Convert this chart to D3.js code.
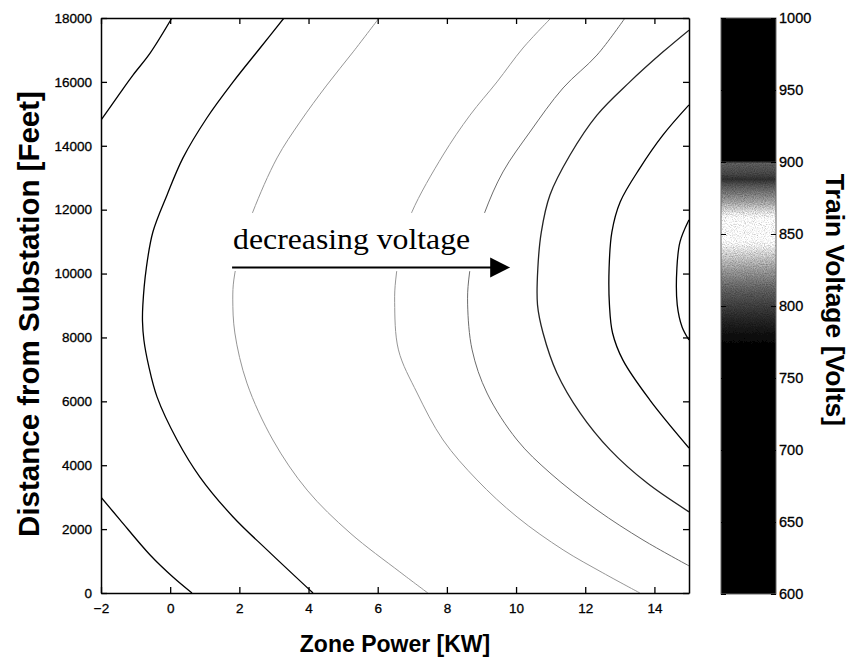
<!DOCTYPE html>
<html>
<head>
<meta charset="utf-8">
<script src="https://cdn.jsdelivr.net/npm/d3@7"></script>
<style>
  body { margin: 0; background: #fff; }
  svg { display: block; }
  .tick text { font-family: "Liberation Sans", Arial, Helvetica, sans-serif; fill: #000; stroke: #000; stroke-width: 0.3px; }
</style>
</head>
<body>
<svg id="chart" width="854" height="663"></svg>
<script>
// ---- axis ticks ----
const powerTicks = [-2, 0, 2, 4, 6, 8, 10, 12, 14];
const distanceTicks = [0, 2000, 4000, 6000, 8000, 10000, 12000, 14000, 16000, 18000];
const voltageTicks = [600, 650, 700, 750, 800, 850, 900, 950, 1000];

// ---- contour lines of train voltage: [zone power kW, distance ft] ----
const v960Upper = [[0.05, 18000], [-0.58, 16900], [-1.07, 16220], [-1.45, 15650], [-2, 14800]];
const v960Lower = [[-2, 3000], [-1.45, 2290], [-0.58, 1190], [0.08, 500], [0.63, 0]];
const v925 = [[3.29, 18000], [2.60, 17060], [1.82, 16000], [1.06, 14870], [0.37, 13620], [-0.09, 12460],
  [-0.50, 11300], [-0.69, 10170], [-0.79, 9020], [-0.80, 8500], [-0.76, 7920], [-0.62, 7100],
  [-0.38, 6140], [0.20, 4790], [0.86, 3630], [1.82, 2380], [2.80, 1350], [4.13, 0]];
const v865 = [[6.04, 18000], [5.29, 16940], [4.53, 15900], [3.75, 14740], [3.09, 13620], [2.39, 11930],
  [2.02, 10740], [1.84, 9800], [1.81, 9200], [1.87, 8140], [2.22, 6570], [2.97, 4790],
  [3.96, 3220], [5.20, 1880], [6.64, 660], [7.45, 0]];
const v840 = [[11.01, 18000], [10.20, 17060], [9.45, 16000], [8.67, 14960], [7.89, 13710], [6.99, 11930],
  [6.68, 10890], [6.52, 9800], [6.49, 9100], [6.60, 7610], [7.14, 6260], [7.89, 4790],
  [8.87, 3540], [10.03, 2380], [11.36, 1350], [12.51, 630], [13.58, 0]];
const v815 = [[13.15, 18000], [12.34, 16840], [11.36, 15810], [10.40, 14430], [9.62, 13180], [9.10, 11930],
  [8.80, 10890], [8.63, 9800], [8.60, 9020], [8.73, 7610], [9.16, 6260], [10.03, 4790],
  [10.98, 3760], [12.34, 2600], [13.67, 1660], [15.0, 850]];
const v790 = [[15, 17620], [14.25, 16940], [13.29, 16000], [12.34, 14960], [11.56, 13710], [10.98, 12460],
  [10.73, 11300], [10.63, 10170], [10.62, 9020], [10.78, 8140], [11.18, 6890], [11.85, 5640],
  [12.72, 4480], [13.79, 3440], [15, 2540]];
const v760 = [[15, 15280], [14.25, 14340], [13.58, 13300], [13.01, 12240], [12.77, 11300], [12.69, 10170],
  [12.70, 9020], [12.79, 8140], [13.09, 7290], [13.87, 6040], [15, 4540]];
const v735 = [[15, 11680], [14.74, 10990], [14.65, 10170], [14.66, 9020], [14.80, 8330], [15, 7920]];

const contourLevels = [960, 925, 865, 840, 815, 790, 760, 735];
const contourSegments = [[v960Upper, v960Lower], [v925], [v865], [v840], [v815], [v790], [v760], [v735]];

// ---- annotation ----
const noteText = "decreasing voltage";
const noteStart = [1.82, 10780];   // text start
const arrowFrom = [1.79, 10190];
const arrowTo = [9.83, 10190];

// ---- layout ----
const svg = d3.select("#chart");
const x = d3.scaleLinear().domain([-2, 15]).range([101, 689]);
const y = d3.scaleLinear().domain([0, 18000]).range([593, 18]);
const cbar = d3.scaleLinear().domain([600, 1000]).range([594, 18]);
const cbarX0 = 721, cbarX1 = 776;

// grey-scale colormap used by the colour bar and the contour lines
const mapStops = [600, 770, 778, 790, 800, 812, 825, 838, 845, 860, 864, 872, 884, 888, 892, 899, 901, 1000];
const mapGrey  = [0,   0,   10,  35,  60,  95,  150, 215, 250, 250, 230, 160, 80,  45,  70,  90,  0,   0];
const greyAt = d3.scaleLinear().domain(mapStops).range(mapGrey).clamp(true);
const mapColor = v => { const g = Math.round(greyAt(v)); return d3.rgb(g, g, g).formatHex(); };
const lineColor = v => { const g = Math.round(Math.min(greyAt(v), 150)); return d3.rgb(g, g, g).formatHex(); };

const defs = svg.append("defs");
defs.append("clipPath").attr("id", "plotClip")
  .append("rect").attr("x", x(-2)).attr("y", y(18000))
  .attr("width", x(15) - x(-2)).attr("height", y(0) - y(18000));

const grad = defs.append("linearGradient").attr("id", "cbarGrad")
  .attr("x1", 0).attr("y1", 0).attr("x2", 0).attr("y2", 1);
mapStops.slice().reverse().forEach(v => {
  grad.append("stop")
    .attr("offset", ((1000 - v) / 400 * 100).toFixed(2) + "%")
    .attr("stop-color", mapColor(v));
});

// printed-halftone grain for the colour bar
const grain = defs.append("filter").attr("id", "grain")
  .attr("x", 0).attr("y", 0).attr("width", 1).attr("height", 1);
grain.append("feTurbulence").attr("type", "fractalNoise").attr("baseFrequency", 0.9)
  .attr("numOctaves", 2).attr("seed", 7).attr("result", "noise");
grain.append("feColorMatrix").attr("in", "noise").attr("type", "matrix")
  .attr("values", "1 0 0 0 0  1 0 0 0 0  1 0 0 0 0  0 0 0 0 1").attr("result", "greyNoise");
grain.append("feComposite").attr("in", "SourceGraphic").attr("in2", "greyNoise")
  .attr("operator", "arithmetic").attr("k1", 1.3).attr("k2", 0.35).attr("k3", 0).attr("k4", 0);

// plot background
svg.append("rect").attr("x", x(-2)).attr("y", y(18000))
  .attr("width", x(15) - x(-2)).attr("height", y(0) - y(18000)).attr("fill", "#fff");

// contour lines
const line = d3.line().x(d => x(d[0])).y(d => y(d[1])).curve(d3.curveCatmullRom.alpha(0.5));
const gC = svg.append("g").attr("clip-path", "url(#plotClip)");
contourLevels.forEach((lvl, i) => {
  contourSegments[i].forEach(seg => {
    gC.append("path").attr("d", line(seg))
      .attr("fill", "none")
      .attr("stroke", lineColor(lvl))
      .attr("stroke-width", greyAt(lvl) > 100 ? 1 : 1.3);
  });
});

// annotation: white backing box, text and arrow
const gN = svg.append("g");
gN.append("rect")
  .attr("x", x(1.5)).attr("y", y(11900))
  .attr("width", x(10.1) - x(1.5)).attr("height", y(10080) - y(11900))
  .attr("fill", "#fff");
gN.append("text")
  .attr("x", x(noteStart[0])).attr("y", y(noteStart[1]))
  .attr("font-family", "'Liberation Serif', 'Times New Roman', Times, serif")
  .attr("font-size", 30)
  .attr("textLength", 237).attr("lengthAdjust", "spacingAndGlyphs")
  .attr("fill", "#000")
  .text(noteText);
const headLen = 20, headHalf = 10;
gN.append("line")
  .attr("x1", x(arrowFrom[0])).attr("y1", y(arrowFrom[1]))
  .attr("x2", x(arrowTo[0]) - headLen + 1).attr("y2", y(arrowTo[1]))
  .attr("stroke", "#000").attr("stroke-width", 2);
const tx = x(arrowTo[0]), ty = y(arrowTo[1]);
gN.append("path")
  .attr("d", `M${tx},${ty}L${tx - headLen},${ty - headHalf}L${tx - headLen},${ty + headHalf}Z`)
  .attr("fill", "#000");

// axes (box with inward ticks)
const styleAxis = g => {
  g.selectAll(".domain").attr("stroke", "#000").attr("stroke-width", 1.5);
  g.selectAll(".tick line").attr("stroke", "#000").attr("stroke-width", 1.3);
  g.selectAll(".tick text").attr("font-size", 13.5);
};
svg.append("g").attr("transform", `translate(0,${y(0)})`)
  .call(d3.axisBottom(x).tickValues(powerTicks).tickSizeInner(-6).tickSizeOuter(0).tickPadding(10))
  .call(styleAxis);
svg.append("g").attr("transform", `translate(0,${y(18000)})`)
  .call(d3.axisTop(x).tickValues(powerTicks).tickSizeInner(-6).tickSizeOuter(0).tickFormat(""))
  .call(styleAxis);
svg.append("g").attr("transform", `translate(${x(-2)},0)`)
  .call(d3.axisLeft(y).tickValues(distanceTicks).tickSizeInner(-6).tickSizeOuter(0).tickPadding(9).tickFormat(d3.format("d")))
  .call(styleAxis);
svg.append("g").attr("transform", `translate(${x(15)},0)`)
  .call(d3.axisRight(y).tickValues(distanceTicks).tickSizeInner(-6).tickSizeOuter(0).tickFormat(""))
  .call(styleAxis);

// colour bar
svg.append("rect")
  .attr("x", cbarX0).attr("y", cbar(1000))
  .attr("width", cbarX1 - cbarX0).attr("height", cbar(600) - cbar(1000))
  .attr("fill", "url(#cbarGrad)")
  .attr("filter", "url(#grain)");
svg.append("rect")
  .attr("x", cbarX0).attr("y", cbar(1000))
  .attr("width", cbarX1 - cbarX0).attr("height", cbar(600) - cbar(1000))
  .attr("fill", "none").attr("stroke", "#666").attr("stroke-width", 1);
const gCR = svg.append("g").attr("transform", `translate(${cbarX1},0)`)
  .call(d3.axisRight(cbar).tickValues(voltageTicks).tickSizeInner(-5).tickSizeOuter(0).tickPadding(3).tickFormat(d3.format("d")));
gCR.select(".domain").remove();
gCR.selectAll(".tick line").attr("stroke", "#000");
gCR.selectAll(".tick text").attr("font-size", 14.5);
const gCL = svg.append("g").attr("transform", `translate(${cbarX0},0)`)
  .call(d3.axisLeft(cbar).tickValues(voltageTicks).tickSizeInner(-5).tickSizeOuter(0).tickFormat(""));
gCL.select(".domain").remove();
gCL.selectAll(".tick line").attr("stroke", "#000");

// axis titles
const titleFont = "'Liberation Sans', Arial, Helvetica, sans-serif";
svg.append("text")
  .attr("x", 395).attr("y", 652)
  .attr("text-anchor", "middle")
  .attr("font-family", titleFont).attr("font-weight", "bold").attr("font-size", 23)
  .text("Zone Power [KW]");
svg.append("text")
  .attr("transform", "translate(39,314) rotate(-90)")
  .attr("text-anchor", "middle")
  .attr("font-family", titleFont).attr("font-weight", "bold").attr("font-size", 29.5)
  .text("Distance from Substation [Feet]");
svg.append("text")
  .attr("transform", "translate(826,300) rotate(90)")
  .attr("text-anchor", "middle")
  .attr("font-family", titleFont).attr("font-weight", "bold").attr("font-size", 26.5)
  .text("Train Voltage [Volts]");
</script>
</body>
</html>
